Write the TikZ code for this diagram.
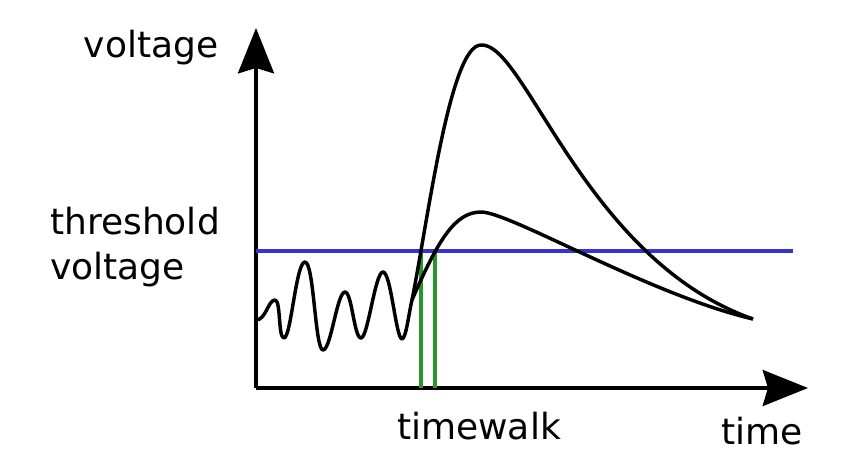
\documentclass[tikz,border=0pt]{standalone}
\usepackage{fontspec}
\setmainfont{DejaVu Sans}
\usepackage{tikz}
\usetikzlibrary{arrows.meta}
\definecolor{ThreshBlue}{RGB}{52,52,214}
\definecolor{WalkGreen}{RGB}{40,150,40}

\begin{document}
\begin{tikzpicture}[x=0.75pt,y=-0.75pt,
    lbl/.style={font=\fontsize{27}{34}\selectfont,inner sep=0pt}]
  \useasboundingbox (0,0) rectangle (845,451);
  % axes, drawn from one corner
  \coordinate (origin) at (256,388);
  \coordinate (ytip) at (256,28);
  \coordinate (xtip) at (808,388);
  \draw[line width=2.6pt,-{Stealth[length=34pt,width=27pt,inset=4pt]}]
        (origin) -- (ytip);
  \draw[line width=2.6pt,-{Stealth[length=34pt,width=27pt,inset=4pt]}]
        (origin) -- (xtip);
  % threshold and the two crossing marks
  \draw[ThreshBlue,line width=2.5pt] (256,251) -- (793,251);
  \draw[WalkGreen,line width=2.5pt] (421,251) -- (421,388);
  \draw[WalkGreen,line width=2.5pt] (435,251) -- (435,388);
  % noise before the pulse
  \draw[line width=2.6pt,line join=round]
        (256,320) .. controls (266,320) and (268,300) .. (275,300)
        .. controls (281,300) and (278,338) .. (284,338)
        .. controls (291,338) and (296,262) .. (305,262)
        .. controls (314,262) and (315,350) .. (323,350)
        .. controls (331,350) and (337,292) .. (345,292)
        .. controls (352,292) and (354,338) .. (361,338)
        .. controls (368,338) and (375,272) .. (383,272)
        .. controls (391,272) and (396,339) .. (402,339)
        .. controls (406,339) and (409,312) .. (412,300);
  % big and small pulse
  \draw[line width=2.6pt]
        (412,300) .. controls (428,220) and (450,45) .. (481,45)
        .. controls (525,42) and (585,260) .. (753,319);
  \draw[line width=2.6pt]
        (412,300) .. controls (438,240) and (455,212) .. (481,212)
        .. controls (510,212) and (650,295) .. (753,319);
  % labels
  \node[lbl] (vlab) at (151,48) {voltage};
  \node[lbl,anchor=west,align=left] (thlab) at (50,247) {threshold\\voltage};
  \node[lbl,anchor=base] (twlab) at (479,439) {timewalk};
  \node[lbl,anchor=base] (tlab) at (762,444) {time};
\end{tikzpicture}
\end{document}
